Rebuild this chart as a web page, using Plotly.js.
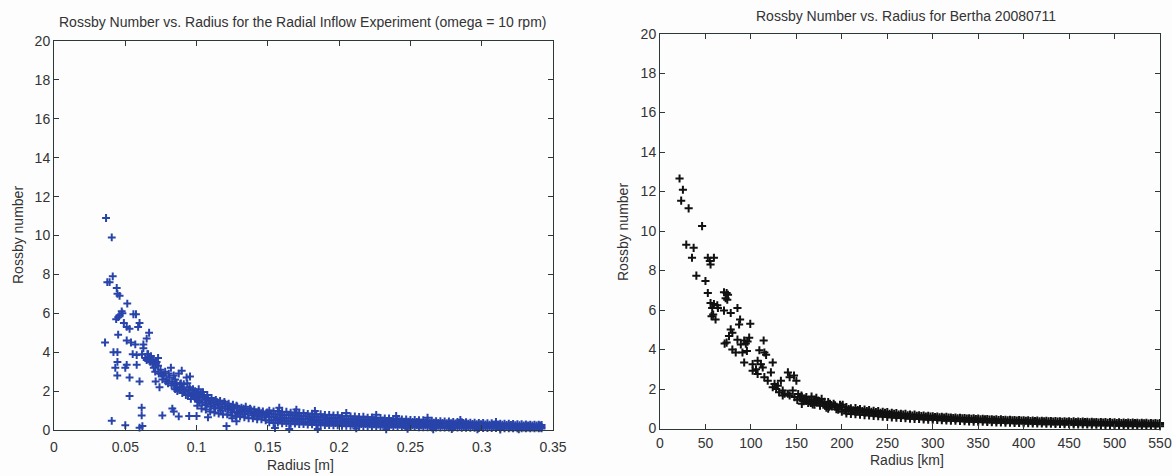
<!DOCTYPE html>
<html>
<head>
<meta charset="utf-8">
<script src="https://cdn.plot.ly/plotly-3.0.1.min.js"></script>
<style>html,body{margin:0;padding:0;background:#fff;}#chart{width:1172px;height:476px;}</style>
</head>
<body>
<div id="chart"></div>
<script>
// ---------- Left chart: Radial Inflow Experiment ----------
var leftScatterX = [0.0365,0.0405,0.0412,0.0374,0.0390,0.0440,0.0445,0.0460,0.0514,0.0475,0.0460,0.0480,0.0436,0.0450,0.0557,0.0575,0.0600,0.0590,0.0530,0.0510,0.0490,0.0358,0.0450,0.0510,0.0540,0.0570,0.0627,0.0667,0.0650,0.0417,0.0445,0.0552,0.0580,0.0627,0.0617,0.0640,0.0650,0.0675,0.0445,0.0430,0.0510,0.0500,0.0444,0.0580,0.0700,0.0720,0.0747,0.0770,0.0820,0.0840,0.0530,0.0600,0.0713,0.0740,0.0530,0.0875,0.0860,0.0850,0.0896,0.0930,0.0910,0.0953,0.0980,0.1000,0.1030,0.1050,0.0990,0.0896,0.0954,0.0730];
var leftScatterY = [10.9,9.9,7.9,7.6,7.6,7.3,7.0,6.9,6.5,6.1,5.9,6.0,5.7,5.8,5.95,5.95,5.5,5.3,5.2,5.3,5.5,4.5,4.9,4.6,4.5,4.4,4.4,5.0,4.7,4.0,4.0,3.9,3.85,4.2,3.9,3.7,3.6,3.5,3.5,3.2,3.35,3.2,2.8,3.35,3.2,3.5,3.1,2.8,3.2,2.8,2.7,2.5,2.5,2.2,1.75,2.9,2.4,2.1,2.2,2.7,2.35,2.1,1.85,1.75,1.9,1.7,1.6,3.05,2.75,3.7];
var leftLowX = [0.0405,0.0500,0.0615,0.0615,0.0620,0.0600,0.0760,0.0830,0.0840,0.0875,0.0948,0.1000,0.1080,0.1210,0.1250,0.1280,0.1550,0.1650];
var leftLowY = [0.47,0.25,1.15,0.75,0.2,0.12,0.75,1.1,0.95,0.7,0.72,0.72,0.65,0.2,0.6,0.45,0.1,0.05];
var leftMidX = [0.0660,0.0680,0.0690,0.0710,0.0730,0.0750,0.0760,0.0780,0.0790,0.0800,0.0810,0.0830,0.0850,0.0860,0.0880,0.0890,0.0900,0.0920,0.0940,0.0950,0.0960,0.0970,0.0990,0.1010,0.1020,0.1040,0.1060,0.1070,0.1090,0.1100,0.1120,0.1130,0.1150,0.1170,0.1180,0.1200,0.1220,0.1230,0.1250,0.1260,0.1280,0.1290,0.1310,0.1330,0.1340,0.1360,0.1380,0.1390,0.1410,0.1430,0.1440,0.1460,0.1480,0.1490];
var leftMidY = [3.9,3.8,3.4,3.0,3.3,2.9,2.6,3.0,2.6,2.4,2.7,2.5,2.6,2.2,2.1,2.4,1.9,2.0,1.8,2.2,1.6,1.9,2.0,1.5,1.8,1.4,1.6,1.3,1.5,1.2,1.4,1.1,1.3,1.0,1.2,1.35,1.05,1.2,0.9,1.1,1.25,0.85,1.0,1.1,0.8,0.95,1.05,0.75,0.9,0.7,0.95,0.8,0.65,0.85];
var leftDenseX = [0.0845,0.0865,0.0885,0.0905,0.0925,0.0935,0.0945,0.0965,0.0975,0.0985,0.0995,0.0765,0.0785,0.0805,0.0825,0.0695,0.0715,0.0735,0.0655,0.0665,
  0.1002,0.1022,0.1042,0.1062,0.1082,0.1102,0.1122,0.1142,0.1162,0.1182,0.1202,0.1222,0.1242,0.1262,0.1282,0.1302,0.1322,0.1342,0.1362,0.1382,0.1402,0.1422,0.1442,0.1462,0.1482,0.1502];
var leftDenseY = [2.3,2.0,2.35,2.1,1.8,2.4,2.05,1.75,2.1,1.7,1.95,2.8,2.5,2.9,2.3,3.6,3.4,2.9,3.9,3.7,
  1.6,1.45,1.7,1.3,1.55,1.35,1.25,1.45,1.15,1.35,1.1,1.25,1.0,1.15,0.95,1.05,0.9,1.0,0.85,0.95,0.8,0.9,0.78,0.88,0.75,0.82];
var leftEdgeX = [0.1005,0.1035,0.1065,0.1095,0.1125,0.1155,0.1185,0.1215,0.1245,0.1275,0.1305,0.1335,0.1365,0.1395,0.1425,0.1455,0.1485,0.1015,0.1045,0.1075,0.1105,0.1135,0.1165,0.1195,0.1225,0.1255,0.1285,0.1315,0.1345,0.1375,0.1405,0.1435,0.1465,0.1495];
var leftEdgeY = [1.25,1.1,1.05,0.95,0.9,0.85,0.8,0.8,0.75,0.7,0.7,0.65,0.6,0.6,0.55,0.55,0.5,2.1,1.95,1.8,1.65,1.55,1.5,1.45,1.35,1.3,1.2,1.15,1.2,1.1,1.05,1.0,0.95,0.9];
var leftBandX = [0.151,0.154,0.157,0.160,0.163,0.166,0.169,0.172,0.175,0.178,
  0.181,0.184,0.187,0.190,0.193,0.196,0.199,0.202,0.205,0.208,
  0.211,0.214,0.217,0.220,0.223,0.226,0.229,0.232,0.235,0.238,
  0.241,0.244,0.247,0.250,0.253,0.256,0.259,0.262,0.265,0.268,
  0.271,0.274,0.277,0.280,0.283,0.286,0.289,0.292,0.295,0.298,
  0.301,0.304,0.307,0.310,0.313,0.316,0.319,0.322,0.325,0.328,
  0.331,0.334,0.337,0.340,0.342];
var leftBandX2 = [0.1525,0.1555,0.1585,0.1615,0.1645,0.1675,0.1705,0.1735,0.1765,0.1795,
  0.1825,0.1855,0.1885,0.1915,0.1945,0.1975,0.2005,0.2035,0.2065,0.2095,
  0.2125,0.2155,0.2185,0.2215,0.2245,0.2275,0.2305,0.2335,0.2365,0.2395,
  0.2425,0.2455,0.2485,0.2515,0.2545,0.2575,0.2605,0.2635,0.2665,0.2695,
  0.2725,0.2755,0.2785,0.2815,0.2845,0.2875,0.2905,0.2935,0.2965,0.2995,
  0.3025,0.3055,0.3085,0.3115,0.3145,0.3175,0.3205,0.3235,0.3265,0.3295,
  0.3325,0.3355,0.3385,0.3405,0.3415];
var leftBandUpper = [1.00,0.96,0.98,0.92,0.94,0.89,0.90,0.86,0.87,0.83,
  0.84,0.80,0.81,0.77,0.78,0.75,0.76,0.72,0.73,0.70,
  0.70,0.67,0.68,0.64,0.65,0.62,0.62,0.59,0.60,0.57,
  0.57,0.54,0.55,0.52,0.52,0.50,0.50,0.48,0.48,0.46,
  0.46,0.44,0.44,0.42,0.42,0.40,0.40,0.38,0.38,0.37,
  0.36,0.35,0.35,0.33,0.33,0.32,0.32,0.31,0.30,0.30,
  0.29,0.28,0.28,0.27,0.26];
var leftBandUpperMid = [0.84,0.80,0.80,0.77,0.77,0.74,0.74,0.71,0.71,0.68,
  0.68,0.65,0.65,0.62,0.62,0.60,0.60,0.57,0.57,0.55,
  0.55,0.53,0.53,0.51,0.51,0.49,0.49,0.47,0.47,0.45,
  0.45,0.43,0.43,0.41,0.41,0.39,0.39,0.38,0.38,0.36,
  0.36,0.35,0.35,0.34,0.33,0.32,0.32,0.31,0.30,0.30,
  0.29,0.28,0.28,0.27,0.27,0.26,0.26,0.25,0.25,0.24,
  0.24,0.23,0.23,0.22,0.22];
var leftBandMiddle = [0.66,0.70,0.62,0.64,0.60,0.61,0.57,0.59,0.55,0.56,
  0.52,0.54,0.50,0.51,0.48,0.49,0.46,0.47,0.44,0.45,
  0.42,0.43,0.41,0.41,0.39,0.40,0.37,0.38,0.36,0.36,
  0.34,0.35,0.33,0.33,0.32,0.32,0.30,0.31,0.29,0.29,
  0.28,0.28,0.27,0.27,0.26,0.26,0.25,0.25,0.24,0.24,
  0.23,0.23,0.22,0.22,0.21,0.21,0.20,0.20,0.19,0.19,
  0.18,0.18,0.17,0.17,0.16];
var leftBandLowerMid = [0.52,0.50,0.50,0.47,0.47,0.45,0.45,0.43,0.43,0.41,
  0.41,0.39,0.39,0.37,0.37,0.35,0.35,0.34,0.34,0.32,
  0.32,0.31,0.31,0.29,0.29,0.28,0.28,0.27,0.27,0.26,
  0.26,0.25,0.25,0.24,0.24,0.23,0.23,0.22,0.22,0.21,
  0.21,0.20,0.20,0.19,0.19,0.19,0.18,0.18,0.17,0.17,
  0.17,0.16,0.16,0.15,0.15,0.15,0.14,0.14,0.14,0.13,
  0.13,0.13,0.12,0.12,0.12];
var leftBandLower = [0.40,0.36,0.38,0.34,0.35,0.32,0.33,0.30,0.31,0.28,
  0.29,0.27,0.27,0.25,0.25,0.24,0.24,0.22,0.22,0.21,
  0.21,0.20,0.20,0.19,0.19,0.18,0.18,0.17,0.17,0.16,
  0.16,0.16,0.15,0.15,0.15,0.14,0.14,0.14,0.13,0.13,
  0.13,0.12,0.12,0.12,0.12,0.11,0.11,0.11,0.11,0.10,
  0.10,0.10,0.10,0.10,0.09,0.09,0.09,0.09,0.09,0.08,
  0.08,0.08,0.08,0.08,0.08];
var leftOutX = [0.158,0.170,0.183,0.205,0.226,0.240,0.262,0.285,0.310,0.185,0.212,0.233,0.248,0.266,0.279,0.297,0.313,0.326];
var leftOutY = [1.15,1.05,0.98,0.88,0.78,0.72,0.63,0.52,0.42,0.05,0.08,0.04,0.06,0.03,0.05,0.04,0.02,0.03];
var leftXTicks = [0,0.05,0.1,0.15,0.2,0.25,0.3,0.35];
var leftXTickText = ["0","0.05","0.1","0.15","0.2","0.25","0.3","0.35"];

// ---------- Right chart: Bertha 20080711 ----------
var rightScatterX = [21.5,25.2,23.3,31.5,46.3,28.9,37,35.2,52.6,55.6,59.3,54.8,40,50,52.6,55.6,59.3,57.4,63,63.7,56.7,61.1,58.5,70.4,73.3,74.8,72.2,74,70.4,77.8,85.2,88.1,87,99.3,77.8,79.6,75.9,73.3,71.1,85.2,92.6,94.4,98.1,96.3,88.9,79.6,83.3,90.7,95.6,114,109.3,114.8,116.7,92.6,101.9,107.4,111,105.6,113,124,101.9,107.4,114.8,122,118.5,126,124,129.6,133,135,140.7,142.6,150,147.4,127.8,137,142.6,148,153.7,159.3,164.8,170,176,181.5,189,196,203.7,140.7,146,155.6,161,166.7,174,177.8,185,192.6,200,131,135,152,158,163,168,172,179,183,187,194,198,
  151,156,161,166,171,176,181,186,191,196,201,156,170,185,200];
var rightScatterY = [12.66,12.09,11.54,11.15,10.25,9.31,9.15,8.65,8.65,8.31,8.65,8.48,7.74,7.47,6.86,6.35,6.3,6.1,6.24,6.1,5.69,5.52,5.77,6.9,6.86,6.77,6.6,6.52,5.97,5.85,6.1,5.52,5.27,5.3,5.02,4.85,4.68,4.35,4.3,4.5,4.46,4.3,4.6,4.4,4.26,4.0,3.85,3.85,3.93,4.46,3.96,3.85,3.73,3.34,3.26,3.43,3.26,3.0,3.09,3.34,2.93,2.76,2.6,2.84,2.42,2.26,2.09,2.17,2.42,1.92,2.84,2.6,2.42,2.68,2.0,1.76,1.67,1.59,1.56,1.5,1.42,1.34,1.25,1.17,1.12,1.05,0.95,1.76,1.92,1.67,1.59,1.62,1.42,1.5,1.34,1.17,1.12,1.84,1.67,1.75,1.38,1.3,1.22,1.55,1.3,1.05,1.25,0.98,1.2,
  1.45,1.6,1.4,1.3,1.45,1.15,1.35,1.1,1.25,0.95,1.2,1.25,1.2,1.0,0.85];
var rightBandX = [205,210,215,220,225,230,235,240,245,250,
  255,260,265,270,275,280,285,290,295,300,
  305,310,315,320,325,330,335,340,345,350,
  355,360,365,370,375,380,385,390,395,400,
  405,410,415,420,425,430,435,440,445,450,
  455,460,465,470,475,480,485,490,495,500,
  505,510,515,520,525,530,535,540,545,550];
var rightBandX2 = [207.5,212.5,217.5,222.5,227.5,232.5,237.5,242.5,247.5,252.5,
  257.5,262.5,267.5,272.5,277.5,282.5,287.5,292.5,297.5,302.5,
  307.5,312.5,317.5,322.5,327.5,332.5,337.5,342.5,347.5,352.5,
  357.5,362.5,367.5,372.5,377.5,382.5,387.5,392.5,397.5,402.5,
  407.5,412.5,417.5,422.5,427.5,432.5,437.5,442.5,447.5,452.5,
  457.5,462.5,467.5,472.5,477.5,482.5,487.5,492.5,497.5,502.5,
  507.5,512.5,517.5,522.5,527.5,532.5,537.5,542.5,547.5];
var rightBandUpper = [1.08,1.02,1.04,0.98,0.96,0.93,0.90,0.88,0.84,0.83,
  0.79,0.78,0.75,0.74,0.71,0.70,0.67,0.66,0.64,0.62,
  0.61,0.59,0.59,0.56,0.56,0.54,0.53,0.52,0.51,0.50,
  0.49,0.48,0.47,0.46,0.46,0.44,0.44,0.43,0.43,0.41,
  0.41,0.40,0.40,0.39,0.39,0.38,0.38,0.37,0.37,0.36,
  0.36,0.35,0.35,0.34,0.34,0.33,0.33,0.32,0.32,0.31,
  0.31,0.30,0.30,0.30,0.29,0.29,0.29,0.28,0.28,0.28];
var rightBandUpperMid = [0.98,0.92,0.94,0.88,0.88,0.84,0.83,0.79,0.79,0.75,
  0.74,0.71,0.70,0.67,0.66,0.64,0.63,0.61,0.60,0.58,
  0.57,0.55,0.55,0.53,0.52,0.51,0.50,0.49,0.48,0.47,
  0.46,0.45,0.44,0.43,0.43,0.42,0.41,0.40,0.40,0.39,
  0.38,0.38,0.37,0.36,0.36,0.35,0.35,0.34,0.34,0.33,
  0.33,0.32,0.32,0.31,0.31,0.30,0.30,0.29,0.29,0.28,
  0.28,0.27,0.27,0.27,0.26,0.26,0.25,0.25,0.25];
var rightBandMiddle = [0.88,0.90,0.84,0.84,0.80,0.79,0.76,0.74,0.72,0.70,
  0.68,0.66,0.64,0.62,0.61,0.59,0.58,0.56,0.55,0.53,
  0.52,0.51,0.50,0.48,0.48,0.46,0.45,0.44,0.44,0.42,
  0.42,0.40,0.40,0.39,0.38,0.37,0.37,0.36,0.35,0.34,
  0.34,0.33,0.33,0.32,0.31,0.31,0.30,0.30,0.29,0.28,
  0.28,0.28,0.27,0.27,0.26,0.26,0.25,0.25,0.24,0.24,
  0.23,0.23,0.22,0.22,0.22,0.21,0.21,0.20,0.20,0.20];
var rightBandLower = [0.76,0.74,0.72,0.70,0.68,0.66,0.64,0.62,0.60,0.58,
  0.56,0.55,0.53,0.52,0.50,0.49,0.48,0.46,0.45,0.44,
  0.43,0.42,0.41,0.40,0.39,0.38,0.37,0.36,0.35,0.34,
  0.34,0.33,0.32,0.31,0.31,0.30,0.29,0.28,0.28,0.27,
  0.27,0.26,0.25,0.25,0.24,0.24,0.23,0.23,0.22,0.22,
  0.21,0.21,0.20,0.20,0.19,0.19,0.18,0.18,0.17,0.17,
  0.16,0.16,0.15,0.15,0.15,0.14,0.14,0.13,0.13,0.12];

var yTicks = [0,2,4,6,8,10,12,14,16,18,20];

// ---------- Build traces ----------
var leftX = [].concat(leftScatterX, leftLowX, leftMidX, leftDenseX, leftEdgeX, leftBandX, leftBandX2, leftBandX, leftBandX2, leftBandX, leftOutX);
var leftY = [].concat(leftScatterY, leftLowY, leftMidY, leftDenseY, leftEdgeY, leftBandUpper, leftBandUpperMid, leftBandMiddle, leftBandLowerMid, leftBandLower, leftOutY);
var rightX = [].concat(rightScatterX, rightBandX, rightBandX2, rightBandX, rightBandX);
var rightY = [].concat(rightScatterY, rightBandUpper, rightBandUpperMid, rightBandMiddle, rightBandLower);

var blue = '#2844aa';
var traces = [
  {x:leftX, y:leftY, xaxis:'x', yaxis:'y', type:'scatter', mode:'markers', cliponaxis:false, hoverinfo:'skip',
   marker:{symbol:'cross-thin', size:5.6, line:{width:2, color:blue}}},
  {x:rightX, y:rightY, xaxis:'x2', yaxis:'y2', type:'scatter', mode:'markers', cliponaxis:false, hoverinfo:'skip',
   marker:{symbol:'cross-thin', size:5.8, line:{width:2, color:'#111111'}}}
];

var W = 1172, H = 476;
function px(x){return x/W;}
function py(y){return 1 - y/H;}
var axisCol = '#2d3838';
var font = 'Liberation Sans, Arial, Helvetica, sans-serif';
function axisBase(extra){
  var a = {showline:true, linecolor:axisCol, linewidth:1, mirror:'ticks', ticks:'inside', ticklen:5,
    tickcolor:axisCol, tickwidth:1, showgrid:false, zeroline:false, fixedrange:true,
    tickfont:{family:font, size:14, color:'#333'}};
  for (var k in extra) a[k] = extra[k];
  return a;
}

var layout = {
  width:W, height:H, showlegend:false,
  paper_bgcolor:'#fdfdfe', plot_bgcolor:'#fdfdfe',
  margin:{l:0,r:0,t:0,b:0},
  xaxis: axisBase({domain:[px(54),px(553)], range:[0,0.35], tickvals:leftXTicks, ticktext:leftXTickText, anchor:'y', ticklabelstandoff:4}),
  yaxis: axisBase({domain:[py(430),py(41)], range:[0,20], tickvals:yTicks, anchor:'x'}),
  xaxis2: axisBase({domain:[px(660),px(1160)], range:[0,550], dtick:50, tick0:0, anchor:'y2', ticklabelstandoff:2}),
  yaxis2: axisBase({domain:[py(428.5),py(33.6)], range:[0,20], tickvals:yTicks, anchor:'x2'}),
  annotations:[
    {text:'Rossby Number vs. Radius for the Radial Inflow Experiment (omega = 10 rpm)', xref:'paper', yref:'paper',
     x:px(302), y:py(22), xanchor:'center', yanchor:'middle', showarrow:false, font:{family:font, size:14, color:'#333'}},
    {text:'Rossby Number vs. Radius for Bertha 20080711', xref:'paper', yref:'paper',
     x:px(906), y:py(16.5), xanchor:'center', yanchor:'middle', showarrow:false, font:{family:font, size:14, color:'#333'}},
    {text:'Radius [m]', xref:'paper', yref:'paper', x:px(300), y:py(465), xanchor:'center', yanchor:'middle', showarrow:false,
     font:{family:font, size:14, color:'#333'}},
    {text:'Radius [km]', xref:'paper', yref:'paper', x:px(907), y:py(460), xanchor:'center', yanchor:'middle', showarrow:false,
     font:{family:font, size:14, color:'#333'}},
    {text:'Rossby number', xref:'paper', yref:'paper', x:px(18), y:py(235), xanchor:'center', yanchor:'middle', textangle:-90, showarrow:false,
     font:{family:font, size:14, color:'#333'}},
    {text:'Rossby number', xref:'paper', yref:'paper', x:px(623), y:py(232), xanchor:'center', yanchor:'middle', textangle:-90, showarrow:false,
     font:{family:font, size:14, color:'#333'}}
  ]
};

Plotly.newPlot('chart', traces, layout, {staticPlot:true, displayModeBar:false});
</script>
</body>
</html>
